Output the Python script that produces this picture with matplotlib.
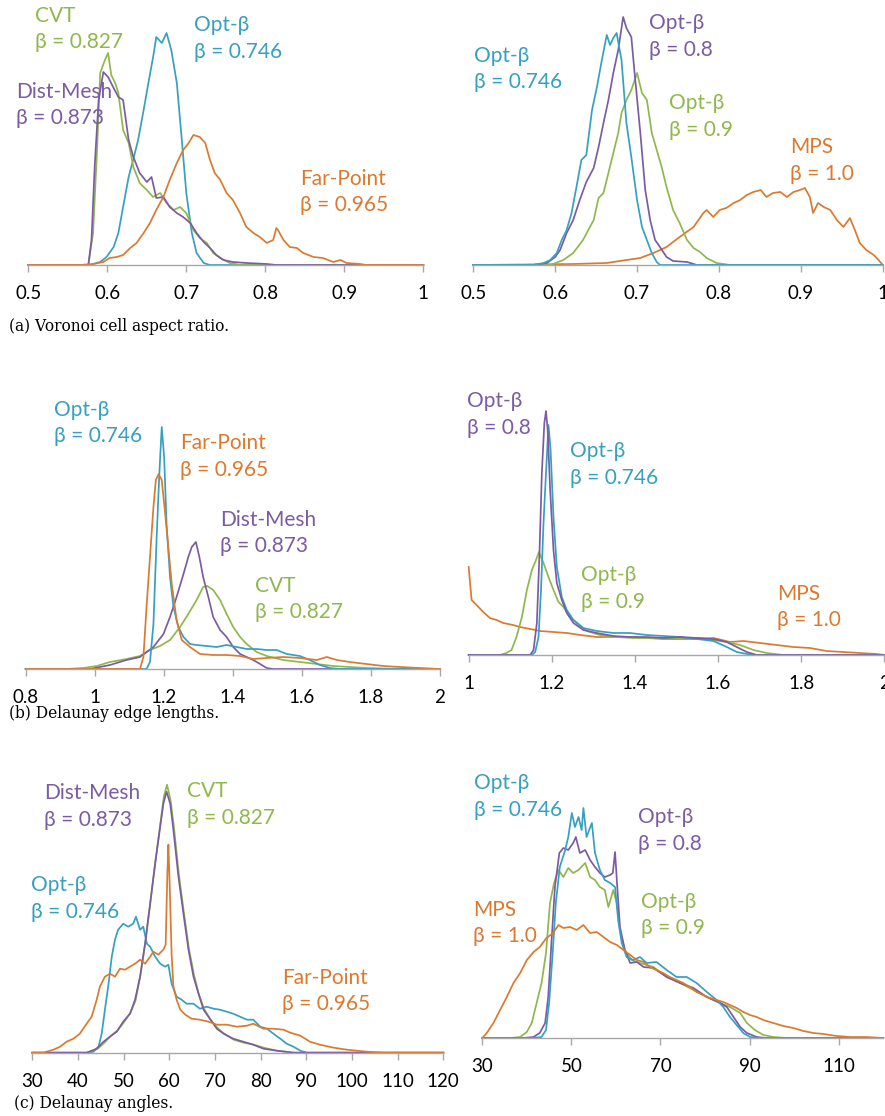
import numpy as np
import matplotlib
matplotlib.use("Agg")
import matplotlib.pyplot as plt

W, H = 885, 1116

BLUE = "#35a0c0"
GREEN = "#8fb84c"
PURPLE = "#7b5ca3"
ORANGE = "#db7a2e"

# (a) Voronoi cell aspect ratio -- (value, relative frequency)
a_opt746 = [(0.5, 0), (0.578, 0), (0.591, 3), (0.599, 8), (0.608, 18), (0.614, 32), (0.620, 58),
            (0.627, 88), (0.633, 106), (0.639, 125), (0.646, 155), (0.652, 182), (0.658, 208),
            (0.662, 228), (0.669, 222), (0.675, 232), (0.681, 215), (0.688, 182), (0.694, 128),
            (0.700, 72), (0.707, 32), (0.713, 12), (0.722, 2), (0.730, 0), (1.0, 0)]
a_cvt = [(0.5, 0), (0.576, 0), (0.582, 32), (0.587, 115), (0.591, 192), (0.597, 205), (0.601, 212),
         (0.605, 190), (0.610, 182), (0.614, 172), (0.620, 135), (0.627, 122), (0.633, 98),
         (0.641, 82), (0.650, 75), (0.658, 68), (0.667, 72), (0.675, 62), (0.684, 55), (0.692, 58),
         (0.700, 52), (0.709, 35), (0.717, 27), (0.726, 22), (0.734, 12), (0.743, 7), (0.755, 2),
         (0.768, 0), (1.0, 0)]
a_distmesh = [(0.5, 0), (0.576, 0), (0.580, 25), (0.584, 98), (0.589, 165), (0.595, 193), (0.601, 188),
              (0.608, 177), (0.614, 168), (0.620, 165), (0.627, 125), (0.633, 108), (0.641, 92),
              (0.650, 83), (0.656, 88), (0.662, 67), (0.671, 68), (0.679, 58), (0.688, 52),
              (0.696, 48), (0.705, 42), (0.713, 32), (0.722, 23), (0.730, 17), (0.738, 10),
              (0.747, 5), (0.759, 3), (0.776, 2), (0.802, 1), (0.814, 0), (1.0, 0)]
a_farpoint = [(0.5, 0), (0.565, 0), (0.582, 1), (0.595, 3), (0.603, 7), (0.612, 8), (0.620, 10),
              (0.629, 17), (0.637, 22), (0.646, 32), (0.654, 42), (0.662, 55), (0.671, 68),
              (0.679, 85), (0.688, 102), (0.696, 115), (0.703, 122), (0.709, 130), (0.717, 128),
              (0.724, 122), (0.730, 105), (0.736, 92), (0.743, 85), (0.751, 72), (0.759, 65),
              (0.768, 52), (0.776, 38), (0.785, 32), (0.793, 28), (0.802, 22), (0.810, 25),
              (0.814, 37), (0.816, 35), (0.823, 25), (0.831, 18), (0.840, 17), (0.848, 12),
              (0.861, 8), (0.873, 7), (0.886, 3), (0.895, 5), (0.903, 2), (0.920, 1), (0.928, 0),
              (1.0, 0)]

a_r_opt746 = [(0.5, 0), (0.573, 0), (0.586, 2), (0.594, 5), (0.602, 12), (0.608, 25), (0.614, 35),
              (0.620, 52), (0.626, 78), (0.632, 105), (0.638, 110), (0.645, 155), (0.651, 178),
              (0.657, 205), (0.663, 230), (0.667, 220), (0.671, 227), (0.675, 232), (0.681, 205),
              (0.687, 142), (0.693, 108), (0.700, 65), (0.706, 38), (0.712, 25), (0.718, 12),
              (0.724, 3), (0.728, 0), (1.0, 0)]
a_r_opt800 = [(0.5, 0), (0.573, 0), (0.590, 2), (0.600, 8), (0.606, 15), (0.614, 32), (0.622, 45),
              (0.630, 65), (0.638, 83), (0.647, 97), (0.653, 118), (0.659, 142), (0.665, 165),
              (0.671, 192), (0.677, 215), (0.683, 248), (0.687, 237), (0.693, 228), (0.697, 192),
              (0.704, 132), (0.710, 75), (0.716, 45), (0.722, 25), (0.728, 18), (0.736, 8),
              (0.744, 4), (0.761, 3), (0.773, 0), (1.0, 0)]
a_r_opt900 = [(0.5, 0), (0.594, 0), (0.610, 5), (0.622, 12), (0.634, 25), (0.647, 45), (0.653, 67),
              (0.659, 72), (0.665, 92), (0.671, 112), (0.677, 132), (0.681, 152), (0.687, 165),
              (0.693, 175), (0.700, 192), (0.706, 172), (0.712, 165), (0.718, 132), (0.724, 115),
              (0.730, 98), (0.736, 78), (0.744, 55), (0.752, 42), (0.761, 25), (0.769, 17),
              (0.777, 13), (0.785, 7), (0.797, 2), (0.814, 0), (1.0, 0)]
a_r_mps = [(0.5, 0), (0.622, 1), (0.663, 2), (0.687, 5), (0.704, 7), (0.720, 12), (0.736, 18),
           (0.752, 28), (0.769, 38), (0.781, 52), (0.785, 55), (0.793, 48), (0.801, 55),
           (0.809, 57), (0.818, 62), (0.826, 65), (0.834, 70), (0.842, 73), (0.851, 75),
           (0.858, 68), (0.866, 72), (0.875, 73), (0.883, 68), (0.891, 73), (0.899, 75),
           (0.905, 77), (0.911, 68), (0.915, 52), (0.921, 62), (0.928, 58), (0.936, 55),
           (0.944, 45), (0.952, 38), (0.960, 47), (0.966, 35), (0.972, 22), (0.980, 15),
           (0.989, 10), (0.995, 5), (1.0, 0)]

# (b) Delaunay edge lengths
b_opt746 = [(0.8, 0), (1.150, 0), (1.160, 7), (1.170, 45), (1.179, 129), (1.187, 195), (1.194, 242),
            (1.201, 212), (1.208, 145), (1.218, 92), (1.228, 62), (1.242, 42), (1.257, 32),
            (1.276, 25), (1.295, 24), (1.324, 23), (1.353, 22), (1.382, 24), (1.411, 22),
            (1.440, 20), (1.469, 20), (1.498, 19), (1.527, 19), (1.556, 15), (1.594, 13),
            (1.623, 9), (1.652, 4), (1.681, 1), (1.710, 0), (2.0, 0)]
b_farpoint = [(0.8, 0), (1.131, 0), (1.141, 12), (1.150, 62), (1.160, 112), (1.170, 162), (1.177, 189),
              (1.185, 195), (1.194, 189), (1.203, 159), (1.213, 122), (1.223, 85), (1.237, 49),
              (1.252, 29), (1.276, 22), (1.305, 15), (1.343, 14), (1.382, 14), (1.421, 13),
              (1.459, 10), (1.498, 11), (1.546, 12), (1.594, 11), (1.643, 9), (1.672, 12),
              (1.701, 9), (1.739, 7), (1.787, 5), (1.836, 3), (1.884, 2), (1.942, 1), (2.0, 0)]
b_distmesh = [(0.8, 0), (0.986, 0), (1.044, 4), (1.092, 9), (1.131, 12), (1.170, 22), (1.199, 35),
              (1.218, 52), (1.237, 72), (1.257, 95), (1.271, 112), (1.281, 122), (1.293, 127),
              (1.303, 112), (1.314, 92), (1.329, 72), (1.343, 52), (1.363, 39), (1.382, 32),
              (1.401, 22), (1.421, 15), (1.440, 12), (1.459, 9), (1.479, 5), (1.498, 1),
              (1.517, 0), (2.0, 0)]
b_cvt = [(0.8, 0), (0.919, 0), (0.967, 1), (1.006, 3), (1.044, 7), (1.092, 10), (1.131, 13),
         (1.160, 19), (1.189, 23), (1.218, 29), (1.247, 42), (1.271, 55), (1.295, 69), (1.314, 82),
         (1.326, 83), (1.343, 79), (1.363, 69), (1.382, 55), (1.401, 42), (1.421, 32), (1.440, 25),
         (1.469, 17), (1.498, 13), (1.546, 9), (1.594, 7), (1.643, 5), (1.691, 3), (1.739, 2),
         (1.787, 1), (1.884, 0), (2.0, 0)]

b_r_opt800 = [(1.0, 0), (1.148, 0), (1.156, 5), (1.164, 32), (1.170, 98), (1.176, 182), (1.182, 232),
              (1.186, 244), (1.190, 225), (1.196, 165), (1.204, 105), (1.212, 72), (1.224, 55),
              (1.236, 42), (1.252, 32), (1.276, 25), (1.308, 22), (1.348, 19), (1.388, 18),
              (1.428, 18), (1.468, 17), (1.508, 18), (1.549, 17), (1.589, 16), (1.621, 13),
              (1.645, 8), (1.669, 3), (1.693, 0), (2.0, 0)]
b_r_opt746 = [(1.0, 0), (1.152, 0), (1.160, 3), (1.168, 18), (1.174, 65), (1.180, 132), (1.186, 182),
              (1.192, 230), (1.197, 205), (1.204, 138), (1.212, 88), (1.224, 58), (1.236, 45),
              (1.252, 35), (1.276, 27), (1.308, 24), (1.348, 22), (1.388, 22), (1.428, 20),
              (1.468, 19), (1.508, 18), (1.549, 16), (1.589, 14), (1.621, 8), (1.645, 3),
              (1.669, 1), (1.693, 0), (2.0, 0)]
b_r_opt900 = [(1.0, 0), (1.075, 0), (1.091, 2), (1.103, 5), (1.115, 18), (1.128, 38), (1.140, 65),
              (1.152, 85), (1.162, 95), (1.169, 103), (1.180, 92), (1.192, 78), (1.204, 65),
              (1.216, 53), (1.228, 48), (1.244, 38), (1.260, 32), (1.284, 24), (1.316, 20),
              (1.356, 18), (1.396, 17), (1.436, 17), (1.476, 17), (1.516, 17), (1.557, 17),
              (1.589, 15), (1.621, 13), (1.653, 10), (1.685, 5), (1.717, 2), (1.757, 0), (2.0, 0)]
b_r_mps = [(1.0, 88), (1.002, 78), (1.007, 55), (1.019, 50), (1.035, 43), (1.051, 37), (1.067, 35),
           (1.083, 32), (1.107, 30), (1.123, 28), (1.148, 26), (1.172, 24), (1.204, 23), (1.236, 22),
           (1.268, 20), (1.308, 18), (1.348, 18), (1.388, 18), (1.428, 17), (1.468, 16), (1.508, 16),
           (1.549, 16), (1.589, 17), (1.629, 13), (1.661, 14), (1.701, 12), (1.741, 10), (1.781, 8),
           (1.821, 7), (1.861, 4), (1.901, 3), (1.941, 2), (1.982, 1), (2.0, 0)]

# (c) Delaunay angles (degrees)
c_distmesh = [(30, 0), (41.9, 0), (44.1, 4), (45.6, 11), (47.0, 16), (48.5, 21), (49.9, 31), (51.4, 39),
              (52.5, 53), (53.6, 76), (54.7, 109), (55.8, 149), (56.9, 189), (58.0, 226), (58.7, 249),
              (59.4, 261), (60.2, 249), (60.9, 223), (62.0, 176), (63.1, 139), (64.2, 103),
              (65.3, 76), (66.4, 59), (67.5, 43), (68.9, 34), (70.4, 24), (71.9, 19), (74.0, 14),
              (76.2, 11), (78.4, 8), (80.6, 4), (83.5, 2), (87.2, 0), (120, 0)]
c_cvt = [(30, 0), (42.2, 0), (44.3, 4), (45.8, 10), (47.2, 17), (48.6, 22), (50.0, 30), (51.5, 40),
         (52.6, 52), (53.7, 78), (54.8, 112), (55.9, 152), (57.0, 193), (58.1, 231), (58.8, 256),
         (59.5, 268), (60.3, 252), (61.0, 226), (62.1, 178), (63.2, 140), (64.3, 104), (65.4, 78),
         (66.5, 58), (67.6, 44), (69.0, 33), (70.5, 25), (72.0, 19), (74.1, 13), (76.3, 10),
         (78.5, 8), (80.7, 5), (83.6, 2), (87.5, 0), (120, 0)]
c_opt746 = [(30, 0), (41.9, 0), (43.4, 1), (44.5, 6), (45.2, 19), (45.9, 43), (46.7, 69), (47.4, 96),
            (48.1, 113), (48.8, 123), (49.9, 129), (51.0, 126), (52.1, 129), (52.7, 136), (53.6, 123),
            (54.3, 126), (55.1, 109), (55.8, 106), (56.9, 96), (58.0, 89), (59.1, 86), (59.8, 88),
            (60.5, 69), (61.6, 56), (62.7, 53), (63.8, 49), (65.3, 49), (66.7, 44), (68.2, 46),
            (69.7, 44), (71.1, 43), (72.6, 41), (74.0, 39), (75.5, 36), (77.0, 33), (78.4, 33),
            (79.9, 26), (81.4, 24), (82.8, 19), (84.3, 14), (85.7, 9), (87.2, 6), (88.7, 2),
            (90.1, 0), (120, 0)]
c_farpoint = [(30, 0), (32.4, 0), (34.6, 3), (36.1, 6), (37.5, 11), (39.0, 14), (40.4, 19), (41.9, 29),
              (43.0, 36), (44.1, 53), (44.8, 66), (45.9, 76), (47.0, 79), (48.1, 76), (49.2, 84),
              (50.3, 83), (51.4, 86), (52.5, 89), (53.6, 93), (54.7, 89), (55.8, 96), (56.5, 101),
              (57.6, 98), (58.7, 103), (59.2, 108), (59.6, 183), (59.8, 208), (60.1, 166),
              (60.5, 99), (60.9, 66), (61.6, 53), (62.4, 43), (63.5, 38), (64.9, 34), (66.7, 33),
              (68.6, 31), (70.4, 28), (72.6, 28), (74.8, 26), (77.0, 27), (78.4, 29), (80.6, 24),
              (82.8, 24), (85.0, 23), (86.5, 20), (88.7, 17), (90.8, 11), (93.0, 8), (96.0, 5),
              (98.9, 3), (103.3, 1), (106.9, 0), (120, 0)]

c_r_mps = [(30.0, 0), (31.0, 5), (32.5, 15), (34.0, 28), (35.5, 41), (37.0, 55), (38.5, 65), (40.0, 78),
           (41.5, 86), (42.9, 91), (44.4, 100), (45.9, 105), (47.1, 113), (48.2, 110), (49.7, 111),
           (51.2, 108), (52.7, 113), (54.2, 105), (55.7, 106), (57.2, 101), (58.7, 96), (60.2, 93),
           (61.7, 88), (63.2, 83), (64.7, 78), (66.2, 76), (67.6, 71), (69.1, 68), (70.6, 65),
           (72.1, 61), (73.6, 58), (75.1, 55), (76.6, 51), (78.1, 46), (79.6, 43), (81.1, 40),
           (82.6, 38), (84.1, 36), (85.6, 33), (87.1, 30), (88.6, 26), (90.1, 23), (91.6, 21),
           (93.1, 18), (95.3, 15), (97.6, 12), (99.8, 10), (102.1, 7), (104.3, 5), (106.6, 4),
           (109.6, 2), (112.6, 1), (116.3, 1), (120, 0)]
c_r_opt900 = [(30, 0), (36.2, 0), (38.5, 1), (40.0, 6), (41.1, 15), (42.2, 35), (43.3, 55), (44.3, 85),
              (45.2, 135), (46.1, 155), (47.1, 168), (48.2, 161), (49.3, 170), (50.4, 165),
              (51.6, 168), (53.1, 175), (54.2, 161), (55.3, 158), (56.4, 151), (57.5, 148),
              (58.3, 131), (59.4, 148), (60.2, 135), (60.9, 108), (62.0, 88), (63.5, 78), (65.4, 75),
              (68.4, 71), (71.4, 61), (74.4, 55), (77.4, 48), (80.4, 41), (83.4, 35), (85.6, 31),
              (87.9, 25), (89.4, 15), (91.2, 8), (93.1, 3), (95.3, 1), (98.3, 0), (120, 0)]
c_r_opt800 = [(30, 0), (39.2, 0), (41.5, 1), (42.9, 5), (44.1, 15), (44.8, 41), (45.6, 101), (46.3, 151),
              (47.3, 185), (48.2, 190), (49.3, 188), (50.4, 195), (51.0, 201), (51.9, 185),
              (53.1, 188), (54.2, 178), (55.3, 171), (56.4, 165), (57.5, 161), (58.7, 163),
              (59.3, 165), (59.8, 186), (60.3, 151), (60.9, 111), (62.0, 88), (63.2, 75), (64.7, 76),
              (66.2, 71), (68.4, 70), (71.4, 61), (74.4, 55), (77.4, 50), (80.4, 41), (83.4, 35),
              (84.9, 31), (86.4, 21), (87.9, 11), (89.4, 5), (91.6, 1), (93.8, 0), (120, 0)]
c_r_opt746 = [(30, 0), (41.5, 0), (43.3, 1), (44.3, 8), (45.0, 35), (45.8, 85), (46.5, 135), (47.4, 171),
              (48.6, 188), (49.3, 201), (50.1, 225), (50.8, 211), (51.6, 221), (52.3, 208),
              (52.7, 230), (53.4, 201), (54.6, 215), (55.3, 185), (56.4, 168), (57.5, 158),
              (58.7, 155), (59.8, 151), (60.5, 118), (61.3, 95), (62.4, 81), (63.9, 78), (65.4, 81),
              (66.9, 75), (69.1, 76), (71.4, 68), (73.6, 61), (75.9, 61), (78.1, 55), (80.4, 46),
              (82.6, 38), (84.1, 31), (85.6, 21), (87.1, 13), (88.6, 5), (90.1, 1), (92.3, 0),
              (120, 0)]

a_ticks = [0.5, 0.6, 0.7, 0.8, 0.9, 1.0]
a_ticklabels = ["0.5", "0.6", "0.7", "0.8", "0.9", "1"]
bl_ticks = [0.8, 1.0, 1.2, 1.4, 1.6, 1.8, 2.0]
bl_ticklabels = ["0.8", "1", "1.2", "1.4", "1.6", "1.8", "2"]
br_ticks = [1.0, 1.2, 1.4, 1.6, 1.8, 2.0]
br_ticklabels = ["1", "1.2", "1.4", "1.6", "1.8", "2"]
cl_ticks = [30, 40, 50, 60, 70, 80, 90, 100, 110, 120]
cr_ticks = [30, 50, 70, 90, 110]

SANS = ["Lato", "DejaVu Sans"]
fig = plt.figure(figsize=(W / 100, H / 100), dpi=100)


def panel(left, right, base, top, xlim, ticks, labels):
    # axes placed in pixel units so the frequency axis reads 1:1
    ax = fig.add_axes([left / W, 1 - base / H, (right - left) / W, (base - top) / H])
    ax.set_xlim(*xlim)
    ax.set_ylim(0, base - top)
    for s in ("top", "right", "left"):
        ax.spines[s].set_visible(False)
    ax.spines["bottom"].set_color("#a8a8a8")
    ax.spines["bottom"].set_linewidth(1.0)
    ax.set_yticks([])
    ax.set_xticks(ticks)
    ax.set_xticklabels(labels, fontfamily=SANS, fontsize=13.5)
    ax.tick_params(axis="x", length=5, width=1, color="#a8a8a8", pad=9.5)
    ax.patch.set_alpha(0)
    return ax


def curve(ax, pts, color):
    x, y = np.array(pts, dtype=float).T
    ax.plot(x, y, color=color, lw=1.25, solid_joinstyle="round", clip_on=False)


def label(x, y, name, beta, color):
    fig.text(x / W, 1 - y / H, name, color=color, fontfamily=SANS, fontsize=15, va="baseline")
    fig.text(x / W, 1 - (y + 26.5) / H, beta, color=color, fontfamily=SANS, fontsize=15, va="baseline")


def caption(x, y, s):
    fig.text(x / W, 1 - y / H, s, fontfamily="DejaVu Serif", fontsize=11.2, va="baseline")


# (a)
ax = panel(28.3, 423.3, 265, 0, (0.5, 1.0), a_ticks, a_ticklabels)
curve(ax, a_opt746, BLUE)
curve(ax, a_cvt, GREEN)
curve(ax, a_distmesh, PURPLE)
curve(ax, a_farpoint, ORANGE)
label(35, 22, "CVT", "β = 0.827", GREEN)
label(194, 31, "Opt-β", "β = 0.746", BLUE)
label(16, 98, "Dist-Mesh", "β = 0.873", PURPLE)
label(300, 185, "Far-Point", "β = 0.965", ORANGE)

ax = panel(473.3, 882.7, 265, 0, (0.5, 1.0), a_ticks, a_ticklabels)
curve(ax, a_r_mps, ORANGE)
curve(ax, a_r_opt900, GREEN)
curve(ax, a_r_opt800, PURPLE)
curve(ax, a_r_opt746, BLUE)
label(474, 62, "Opt-β", "β = 0.746", BLUE)
label(649, 29, "Opt-β", "β = 0.8", PURPLE)
label(669, 109, "Opt-β", "β = 0.9", GREEN)
label(790, 153, "MPS", "β = 1.0", ORANGE)
caption(9, 331, "(a) Voronoi cell aspect ratio.")

# (b)
ax = panel(25.7, 440, 669, 369, (0.8, 2.0), bl_ticks, bl_ticklabels)
curve(ax, b_cvt, GREEN)
curve(ax, b_distmesh, PURPLE)
curve(ax, b_opt746, BLUE)
curve(ax, b_farpoint, ORANGE)
label(54, 416, "Opt-β", "β = 0.746", BLUE)
label(180, 449, "Far-Point", "β = 0.965", ORANGE)
label(220, 526, "Dist-Mesh", "β = 0.873", PURPLE)
label(255, 592, "CVT", "β = 0.827", GREEN)

ax = panel(468.7, 884.3, 655, 355, (1.0, 2.0), br_ticks, br_ticklabels)
curve(ax, b_r_mps, ORANGE)
curve(ax, b_r_opt900, GREEN)
curve(ax, b_r_opt746, BLUE)
curve(ax, b_r_opt800, PURPLE)
label(467, 407, "Opt-β", "β = 0.8", PURPLE)
label(570, 457, "Opt-β", "β = 0.746", BLUE)
label(581, 581, "Opt-β", "β = 0.9", GREEN)
label(777, 600, "MPS", "β = 1.0", ORANGE)
caption(9, 718, "(b) Delaunay edge lengths.")

# (c)
ax = panel(32.3, 443.3, 1052.7, 752.7, (30, 120), cl_ticks, [str(t) for t in cl_ticks])
curve(ax, c_opt746, BLUE)
curve(ax, c_cvt, GREEN)
curve(ax, c_distmesh, PURPLE)
curve(ax, c_farpoint, ORANGE)
label(44, 799, "Dist-Mesh", "β = 0.873", PURPLE)
label(187, 797, "CVT", "β = 0.827", GREEN)
label(31, 891, "Opt-β", "β = 0.746", BLUE)
label(282, 984, "Far-Point", "β = 0.965", ORANGE)

ax = panel(482.3, 883.2, 1038, 738, (30, 120), cr_ticks, [str(t) for t in cr_ticks])
curve(ax, c_r_opt900, GREEN)
curve(ax, c_r_opt800, PURPLE)
curve(ax, c_r_opt746, BLUE)
curve(ax, c_r_mps, ORANGE)
label(474, 789, "Opt-β", "β = 0.746", BLUE)
label(638, 823, "Opt-β", "β = 0.8", PURPLE)
label(641, 908, "Opt-β", "β = 0.9", GREEN)
label(473, 916, "MPS", "β = 1.0", ORANGE)
caption(14, 1108, "(c) Delaunay angles.")

fig.savefig("out.png", dpi=100)
